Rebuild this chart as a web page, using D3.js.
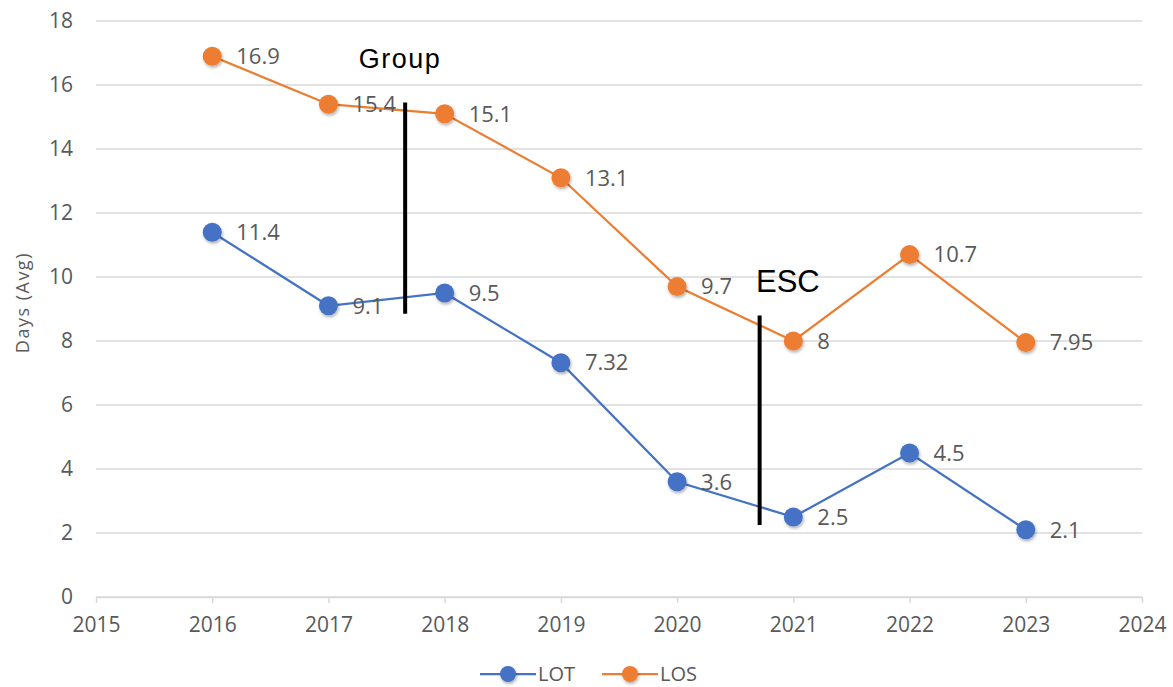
<!DOCTYPE html>
<html>
<head>
<meta charset="utf-8">
<script src="https://cdn.jsdelivr.net/npm/d3@7"></script>
<style>
  body { margin: 0; background: #fff; }
  svg { display: block; }
</style>
</head>
<body>
<svg id="chart"></svg>
<script>
const width = 1173;
const height = 687;

// data
var years = [2016, 2017, 2018, 2019, 2020, 2021, 2022, 2023];
var lot = [11.4, 9.1, 9.5, 7.32, 3.6, 2.5, 4.5, 2.1];
var los = [16.9, 15.4, 15.1, 13.1, 9.7, 8, 10.7, 7.95];
var seriesNames = ["LOT", "LOS"];
var yTicks = [0, 2, 4, 6, 8, 10, 12, 14, 16, 18];
var xTicks = [2015, 2016, 2017, 2018, 2019, 2020, 2021, 2022, 2023, 2024];

// annotations (in data units)
var noteLabels = ["Group", "ESC"];
var noteX = [2017.66, 2020.71];
var noteY0 = [8.85, 2.25];
var noteY1 = [15.45, 8.8];

var colors = { LOT: "#4472C4", LOS: "#ED7D31" };
var textColor = "#595959";
var font = "'Open Sans', 'Noto Sans', sans-serif";
var annFont = "'Liberation Sans', Arial, sans-serif";

var svg = d3.select("#chart")
    .attr("width", width)
    .attr("height", height);

var defs = svg.append("defs");
var f = defs.append("filter").attr("id", "shadow")
    .attr("x", "-50%").attr("y", "-50%").attr("width", "200%").attr("height", "200%");
f.append("feDropShadow").attr("dx", 1).attr("dy", 2).attr("stdDeviation", 1.5)
    .attr("flood-color", "#000").attr("flood-opacity", 0.3);

var xScale = d3.scaleLinear().domain([2015, 2024]).range([96, 1142]);
var yScale = d3.scaleLinear().domain([0, 18]).range([597, 21]);

// gridlines
svg.append("g")
    .selectAll("line")
    .data(yTicks)
    .enter()
    .append("line")
    .attr("x1", xScale(2015))
    .attr("x2", xScale(2024))
    .attr("y1", d => yScale(d))
    .attr("y2", d => yScale(d))
    .attr("stroke", "#d9d9d9")
    .attr("stroke-width", 1.5);

// y axis labels
svg.append("g")
    .selectAll("text")
    .data(yTicks)
    .enter()
    .append("text")
    .attr("x", 73)
    .attr("y", d => yScale(d))
    .attr("dy", "0.35em")
    .attr("text-anchor", "end")
    .attr("fill", textColor)
    .style("font-family", font)
    .style("font-size", "21px")
    .text(d => d);

// x axis
var xAxis = d3.axisBottom(xScale)
    .tickValues(xTicks)
    .tickFormat(d3.format("d"))
    .tickSize(6)
    .tickSizeOuter(0);

var gx = svg.append("g")
    .attr("transform", "translate(0," + yScale(0) + ")")
    .call(xAxis);
gx.select(".domain").attr("stroke", "#d9d9d9").attr("stroke-width", 1.5);
gx.selectAll(".tick line").attr("stroke", "#d9d9d9").attr("stroke-width", 1.5);
gx.selectAll(".tick text")
    .attr("y", 20)
    .attr("fill", textColor)
    .style("font-family", font)
    .style("font-size", "21px");

// y axis title
svg.append("text")
    .attr("transform", "translate(29," + yScale(9.2) + ") rotate(-90)")
    .attr("text-anchor", "middle")
    .attr("fill", textColor)
    .style("font-family", font)
    .style("font-size", "18px")
    .style("letter-spacing", "1.5px")
    .text("Days (Avg)");

var line = d3.line()
    .x((d, i) => xScale(years[i]))
    .y(d => yScale(d));

var seriesData = { LOT: lot, LOS: los };

seriesNames.forEach(function (name) {
    var vals = seriesData[name];
    var g = svg.append("g");
    g.append("path")
        .datum(vals)
        .attr("fill", "none")
        .attr("stroke", colors[name])
        .attr("stroke-width", 2.25)
        .attr("d", line);
    g.selectAll("circle")
        .data(vals)
        .enter()
        .append("circle")
        .attr("cx", (d, i) => xScale(years[i]))
        .attr("cy", d => yScale(d))
        .attr("r", 9.5)
        .attr("fill", colors[name])
        .attr("filter", "url(#shadow)");
    g.selectAll("text")
        .data(vals)
        .enter()
        .append("text")
        .attr("x", (d, i) => xScale(years[i]) + 24)
        .attr("y", d => yScale(d))
        .attr("dy", "0.35em")
        .attr("fill", textColor)
        .style("font-family", font)
        .style("font-size", "22px")
        .text(d => d);
});

// annotations
noteLabels.forEach(function (lab, i) {
    svg.append("line")
        .attr("x1", xScale(noteX[i]))
        .attr("x2", xScale(noteX[i]))
        .attr("y1", yScale(noteY0[i]))
        .attr("y2", yScale(noteY1[i]))
        .attr("stroke", "#000")
        .attr("stroke-width", 4);
});
svg.append("text")
    .attr("x", 400)
    .attr("y", 68)
    .attr("text-anchor", "middle")
    .style("font-family", annFont)
    .style("font-size", "27px")
    .style("letter-spacing", "1.5px")
    .attr("fill", "#000")
    .text(noteLabels[0]);
svg.append("text")
    .attr("x", 756)
    .attr("y", 292)
    .attr("text-anchor", "start")
    .style("font-family", annFont)
    .style("font-size", "31px")
    .attr("fill", "#000")
    .text(noteLabels[1]);

// legend
var legendX = [480, 602];
var legend = svg.append("g");
seriesNames.forEach(function (name, i) {
    var lg = legend.append("g").attr("transform", "translate(" + legendX[i] + ",674)");
    lg.append("line").attr("x1", 0).attr("x2", 56).attr("y1", 0).attr("y2", 0)
        .attr("stroke", colors[name]).attr("stroke-width", 2.25);
    lg.append("circle").attr("cx", 28).attr("cy", 0).attr("r", 8)
        .attr("fill", colors[name]).attr("filter", "url(#shadow)");
    lg.append("text").attr("x", 58).attr("y", 0).attr("dy", "0.35em")
        .attr("fill", textColor)
        .style("font-family", font)
        .style("font-size", "20px")
        .text(name);
});
</script>
</body>
</html>
